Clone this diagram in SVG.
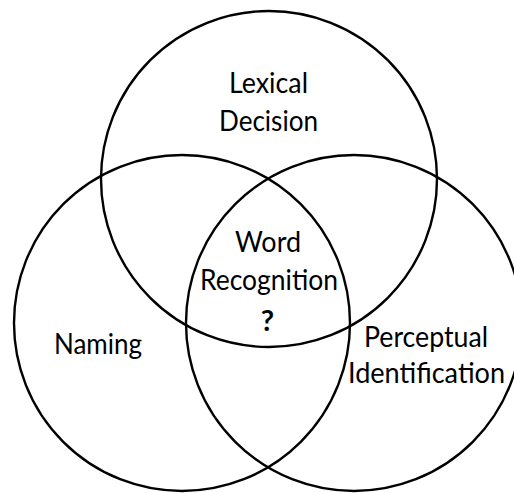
<svg xmlns="http://www.w3.org/2000/svg" width="514" height="493" viewBox="0 0 514 493">
  <style>
    .set { fill: none; stroke: #000; stroke-width: 2.4; }
    .lbl { font-family: Lato, "Open Sans", "Liberation Sans", sans-serif; font-size: 29px; fill: #000; text-anchor: middle; }
    .q { font-weight: bold; }
  </style>
  <rect width="514" height="493" fill="#fff"/>
  <g id="lexical-decision">
    <circle class="set" cx="269" cy="179" r="168"/>
    <text class="lbl" x="268.5" y="93" textLength="79" lengthAdjust="spacingAndGlyphs">Lexical</text>
    <text class="lbl" x="268.5" y="131" textLength="99" lengthAdjust="spacingAndGlyphs">Decision</text>
  </g>
  <g id="naming">
    <circle class="set" cx="182" cy="323" r="168"/>
    <text class="lbl" x="98" y="354" textLength="88" lengthAdjust="spacingAndGlyphs">Naming</text>
  </g>
  <g id="perceptual-identification">
    <circle class="set" cx="354" cy="323" r="168"/>
    <text class="lbl" x="426" y="347" textLength="124" lengthAdjust="spacingAndGlyphs">Perceptual</text>
    <text class="lbl" x="426.5" y="383" textLength="157" lengthAdjust="spacingAndGlyphs">Identification</text>
  </g>
  <g id="word-recognition">
    <text class="lbl" x="268" y="252" textLength="66" lengthAdjust="spacingAndGlyphs">Word</text>
    <text class="lbl" x="269" y="290" textLength="138" lengthAdjust="spacingAndGlyphs">Recognition</text>
    <text class="lbl q" x="267.5" y="331">?</text>
  </g>
</svg>
